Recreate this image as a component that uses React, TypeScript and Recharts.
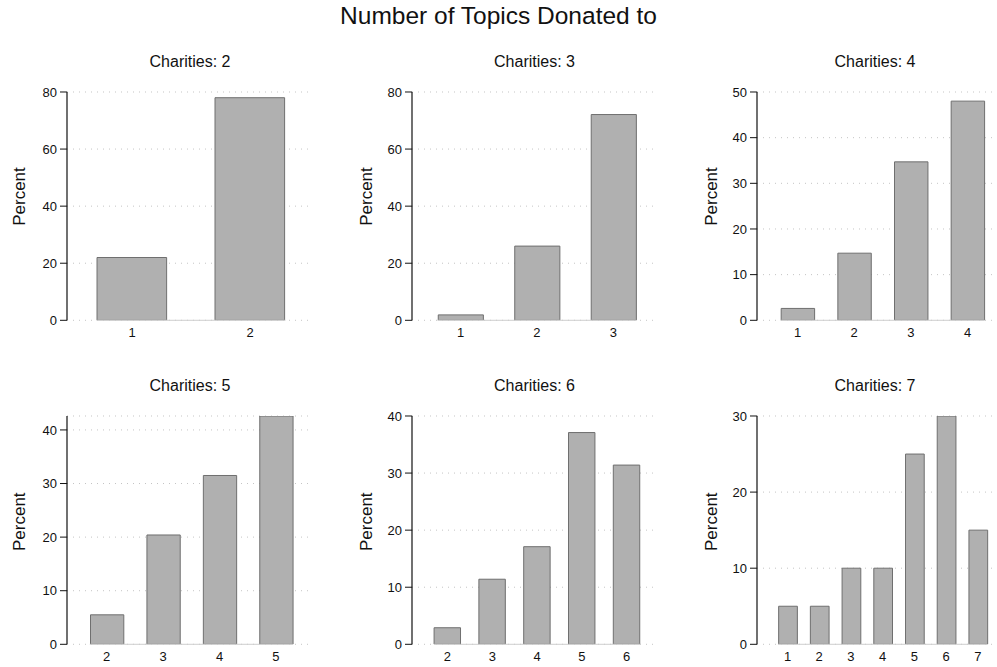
import React from "react";
import { BarChart, Bar, XAxis, YAxis, CartesianGrid, ReferenceLine } from "recharts";

// ---- data (percent of donors by number of topics donated to) ----
const cats2 = [1, 2];
const pct2 = [22.0, 78.0];
const yTicks2 = [0, 20, 40, 60, 80];

const cats3 = [1, 2, 3];
const pct3 = [1.9, 26.0, 72.1];
const yTicks3 = [0, 20, 40, 60, 80];

const cats4 = [1, 2, 3, 4];
const pct4 = [2.6, 14.7, 34.7, 48.0];
const yTicks4 = [0, 10, 20, 30, 40, 50];

const cats5 = [2, 3, 4, 5];
const pct5 = [5.5, 20.4, 31.5, 42.6];
const yTicks5 = [0, 10, 20, 30, 40];

const cats6 = [2, 3, 4, 5, 6];
const pct6 = [2.9, 11.4, 17.1, 37.1, 31.4];
const yTicks6 = [0, 10, 20, 30, 40];

const cats7 = [1, 2, 3, 4, 5, 6, 7];
const pct7 = [5, 5, 10, 10, 25, 30, 15];
const yTicks7 = [0, 10, 20, 30];

const panelTitles = ["Charities: 2", "Charities: 3", "Charities: 4", "Charities: 5", "Charities: 6", "Charities: 7"];
const mainTitle = "Number of Topics Donated to";
const yLabel = "Percent";

const FONT = "'Liberation Sans', Arial, Helvetica, sans-serif";
const Y_AXIS_W = 45;
const PLOT_H = 228.3;

type PanelProps = {
  cats: number[];
  vals: number[];
  yTicks: number[];
  yMax: number;
  xDomain: [number, number];
  left: number;
  top: number;
  width: number;
};

function Panel({ cats, vals, yTicks, yMax, xDomain, left, top, width }: PanelProps) {
  const data = cats.map((c, i) => ({ x: c, y: vals[i] }));
  const pxPerUnit = width / (xDomain[1] - xDomain[0]);
  const barSize = 0.59 * pxPerUnit;
  const chartW = Y_AXIS_W + width + 5;
  const chartH = 10 + PLOT_H + 30;
  return (
    <div style={{ position: "absolute", left: left - Y_AXIS_W, top: top - 10 }}>
      <BarChart
        width={chartW}
        height={chartH}
        data={data}
        margin={{ top: 10, right: 5, bottom: 0, left: 0 }}
        barSize={barSize}
      >
        <CartesianGrid horizontal vertical={false} stroke="#c4c4c4" strokeDasharray="1 5" />
        <XAxis
          type="number"
          dataKey="x"
          domain={xDomain}
          ticks={cats}
          interval={0}
          allowDataOverflow
          axisLine={false}
          tickLine={false}
          tickSize={6}
          tickMargin={1}
          height={30}
          tick={{ fill: "#111", fontSize: 13, fontFamily: FONT }}
        />
        <YAxis
          type="number"
          domain={[0, yMax]}
          ticks={yTicks}
          interval={0}
          allowDataOverflow
          width={Y_AXIS_W}
          axisLine={{ stroke: "#111", strokeWidth: 1.2 }}
          tickLine={{ stroke: "#111", strokeWidth: 1 }}
          tickSize={7}
          tickMargin={3}
          tick={{ fill: "#111", fontSize: 13, fontFamily: FONT }}
        />
        <ReferenceLine
          segment={[
            { x: cats[0] - 0.3, y: 0 },
            { x: cats[cats.length - 1] + 0.3, y: 0 },
          ]}
          stroke="#cfcfcf"
          strokeWidth={1}
        />
        <Bar dataKey="y" fill="#b0b0b0" stroke="#6e6e6e" strokeWidth={1} isAnimationActive={false} />
      </BarChart>
    </div>
  );
}

const COL_LEFT = [67, 412, 757];
const COL_W = [246, 245, 236];
const ROW_TOP = [91.7, 415.5];

export default function App() {
  const panels: PanelProps[] = [
    { cats: cats2, vals: pct2, yTicks: yTicks2, yMax: 80, xDomain: [0.449, 2.534], left: COL_LEFT[0], top: ROW_TOP[0], width: COL_W[0] },
    { cats: cats3, vals: pct3, yTicks: yTicks3, yMax: 80, xDomain: [0.366, 3.569], left: COL_LEFT[1], top: ROW_TOP[0], width: COL_W[1] },
    { cats: cats4, vals: pct4, yTicks: yTicks4, yMax: 50, xDomain: [0.285, 4.45], left: COL_LEFT[2], top: ROW_TOP[0], width: COL_W[2] },
    { cats: cats5, vals: pct5, yTicks: yTicks5, yMax: 42.6, xDomain: [1.296, 5.656], left: COL_LEFT[0], top: ROW_TOP[1], width: COL_W[0] },
    { cats: cats6, vals: pct6, yTicks: yTicks6, yMax: 40, xDomain: [1.208, 6.676], left: COL_LEFT[1], top: ROW_TOP[1], width: COL_W[1] },
    { cats: cats7, vals: pct7, yTicks: yTicks7, yMax: 30, xDomain: [0.038, 7.479], left: COL_LEFT[2], top: ROW_TOP[1], width: COL_W[2] },
  ];
  const titleBaseline = [66.5, 391];
  const labelCenterY = [196.5, 521.7];
  const labelBaselineX = [25, 372, 717];
  return (
    <div
      style={{
        position: "absolute",
        left: 0,
        top: 0,
        width: 997,
        height: 667,
        background: "#ffffff",
        overflow: "hidden",
        fontFamily: FONT,
      }}
    >
      {panels.map((p, i) => (
        <Panel key={i} {...p} />
      ))}
      <svg
        width={997}
        height={667}
        style={{ position: "absolute", left: 0, top: 0, pointerEvents: "none" }}
      >
        <text x={498.5} y={24} textAnchor="middle" fontSize={24.5} fill="#111" fontFamily={FONT}>
          {mainTitle}
        </text>
        {panels.map((p, i) => {
          const row = Math.floor(i / 3);
          const col = i % 3;
          const cx = p.left + p.width / 2;
          const ly = labelCenterY[row];
          const lx = labelBaselineX[col];
          return (
            <g key={i}>
              <text x={cx} y={titleBaseline[row]} textAnchor="middle" fontSize={16} fill="#111" fontFamily={FONT}>
                {panelTitles[i]}
              </text>
              <text
                x={lx}
                y={ly}
                textAnchor="middle"
                fontSize={17}
                fill="#111"
                fontFamily={FONT}
                transform={`rotate(-90 ${lx} ${ly})`}
              >
                {yLabel}
              </text>
            </g>
          );
        })}
      </svg>
    </div>
  );
}
